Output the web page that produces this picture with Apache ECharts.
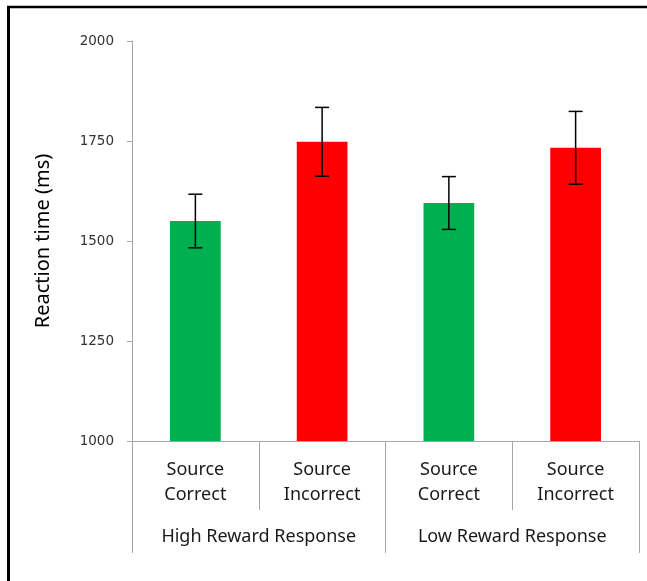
<!DOCTYPE html>
<html>
<head>
<meta charset="utf-8">
<style>
  html, body { margin: 0; padding: 0; background: #fff; }
  #chart { width: 647px; height: 581px; }
</style>
<script src="https://cdn.jsdelivr.net/npm/echarts@6/dist/echarts.min.js"></script>
</head>
<body>
<div id="chart"></div>
<script>
// Condition labels (inner axis) and response groups (outer axis)
const conditions = ['Source\nCorrect', 'Source\nIncorrect', 'Source\nCorrect', 'Source\nIncorrect'];
const groups = ['High Reward Response', 'Low Reward Response'];

// Mean reaction times (ms) and error bar half-widths (ms)
const meanRT = [1550, 1748, 1595, 1733];
const errRT = [67, 86, 66, 91];
const barColors = ['#00b050', '#ff0000', '#00b050', '#ff0000'];

// Y axis ticks
const yMin = 1000, yMax = 2000, yStep = 250;

const FONT = "'Noto Sans', sans-serif";
const TICK_FONT = "'DejaVu Sans', sans-serif";
const AXIS_GRAY = '#a6a6a6';

const chart = echarts.init(document.getElementById('chart'), null, { renderer: 'canvas' });

chart.setOption({
  backgroundColor: '#fff',
  animation: false,
  grid: { left: 132, right: 8, top: 41, bottom: 140, containLabel: false },
  xAxis: [
    {
      type: 'category',
      data: conditions,
      position: 'bottom',
      axisLine: { show: true, lineStyle: { color: AXIS_GRAY, width: 1 } },
      axisTick: { show: true, alignWithLabel: false, length: 69, lineStyle: { color: AXIS_GRAY, width: 1 } },
      axisLabel: {
        margin: 16, fontFamily: FONT, fontSize: 18, color: '#1a1a1a', lineHeight: 25, interval: 0
      }
    },
    {
      type: 'category',
      data: groups,
      position: 'bottom',
      axisLine: { show: false },
      axisTick: { show: true, alignWithLabel: false, length: 112, lineStyle: { color: AXIS_GRAY, width: 1 } },
      axisLabel: {
        margin: 85, fontFamily: FONT, fontSize: 18, color: '#1a1a1a', lineHeight: 21, interval: 0
      }
    }
  ],
  yAxis: {
    type: 'value',
    min: yMin, max: yMax, interval: yStep,
    name: 'Reaction time (ms)',
    nameLocation: 'middle',
    nameGap: 79,
    nameTextStyle: { fontFamily: FONT, fontSize: 20, color: '#000' },
    axisLine: { show: true, lineStyle: { color: AXIS_GRAY, width: 1 } },
    axisTick: { show: true, inside: false, length: 5, lineStyle: { color: AXIS_GRAY } },
    axisLabel: {
      margin: 18, fontFamily: TICK_FONT, fontSize: 13.5, color: '#333',
      formatter: function (v) { return String(v); }
    },
    splitLine: { show: false }
  },
  series: [
    {
      type: 'bar',
      xAxisIndex: 0,
      barWidth: '40%',
      data: meanRT.map((v, i) => ({ value: v, itemStyle: { color: barColors[i] } })),
      z: 2
    },
    {
      type: 'custom',
      xAxisIndex: 0,
      z: 5,
      data: meanRT.map((v, i) => [i, v - errRT[i], v + errRT[i]]),
      renderItem: function (params, api) {
        const x = api.value(0);
        const lo = api.coord([x, api.value(1)]);
        const hi = api.coord([x, api.value(2)]);
        const cap = 7;
        const style = { stroke: '#000', lineWidth: 1.5 };
        return {
          type: 'group',
          children: [
            { type: 'line', shape: { x1: lo[0], y1: lo[1], x2: hi[0], y2: hi[1] }, style: style },
            { type: 'line', shape: { x1: hi[0] - cap, y1: hi[1], x2: hi[0] + cap, y2: hi[1] }, style: style },
            { type: 'line', shape: { x1: lo[0] - cap, y1: lo[1], x2: lo[0] + cap, y2: lo[1] }, style: style }
          ]
        };
      }
    }
  ],
  graphic: [
    // Frame around the figure: top and left edges
    { type: 'line', shape: { x1: 7, y1: 7, x2: 647, y2: 7 }, style: { stroke: '#000', lineWidth: 2.5 }, silent: true },
    { type: 'line', shape: { x1: 8.5, y1: 6, x2: 8.5, y2: 581 }, style: { stroke: '#000', lineWidth: 3 }, silent: true }
  ]
});
</script>
</body>
</html>
